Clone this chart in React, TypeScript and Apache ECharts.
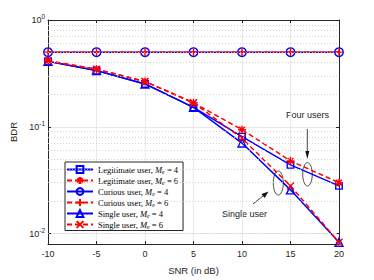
import React, { useEffect, useRef } from 'react';
import * as echarts from 'echarts';

const snr = [-10, -5, 0, 5, 10, 15, 20];
const legit4 = [0.41, 0.336, 0.252, 0.152, 0.081, 0.044, 0.028];
const legit6 = [0.415, 0.346, 0.266, 0.168, 0.094, 0.048, 0.030];
const curious4 = [0.5, 0.5, 0.5, 0.5, 0.5, 0.5, 0.5];
const curious6 = [0.5, 0.5, 0.5, 0.5, 0.5, 0.5, 0.5];
const single4 = [0.41, 0.336, 0.252, 0.152, 0.0705, 0.0257, 0.0083];
const single6 = [0.415, 0.346, 0.266, 0.168, 0.078, 0.028, 0.0083];

const seriesNames = [
  'Legitimate user, M_e = 4',
  'Legitimate user, M_e = 6',
  'Curious user, M_e = 4',
  'Curious user, M_e = 6',
  'Single user, M_e = 4',
  'Single user, M_e = 6',
];
const yMinorGrid = [0.009, 0.02, 0.03, 0.04, 0.05, 0.06, 0.07, 0.08, 0.09, 0.2, 0.3, 0.4, 0.5, 0.6, 0.7, 0.8, 0.9];

const BLUE = '#0000ff';
const RED = '#ff0000';
const AX = '#262626';
const SANS = '"Liberation Sans", Arial, sans-serif';
const SERIF = '"Liberation Serif", "Times New Roman", serif';

const ASTERISK = 'path://M0,-5L0,5M-5,0L5,0M-3.6,-3.6L3.6,3.6M-3.6,3.6L3.6,-3.6';
const PLUS = 'path://M0,-5L0,5M-5,0L5,0';
const CROSS = 'path://M-4,-4L4,4M-4,4L4,-4';

function mk(name: string, data: number[], color: string, dashed: boolean, symbol: string, size: number, hollow: boolean, z: number) {
  return {
    type: 'line',
    name,
    data: snr.map((x, i) => [x, data[i]]),
    xAxisIndex: 0,
    yAxisIndex: 0,
    symbol,
    symbolSize: size,
    showAllSymbol: true,
    color,
    z,
    lineStyle: { color, width: 1.5, type: dashed ? [5, 3] : 'solid' },
    itemStyle: { color: hollow ? 'rgba(0,0,0,0)' : color, borderColor: color, borderWidth: 1.4 },
    emphasis: { disabled: true },
  };
}

export default function App() {
  const ref = useRef<HTMLDivElement>(null);
  useEffect(() => {
    document.body.style.margin = '0';
    const chart = echarts.init(ref.current!, null, { renderer: 'svg' });
    const yFmt = (v: number) => {
      const e = Math.log10(v);
      const r = Math.round(e);
      if (Math.abs(e - r) > 1e-6) return '';
      return `{b|10}{s|${r}}`;
    };
    const option: any = {
      animation: false,
      grid: { left: 48, right: 35, top: 20, bottom: 31, show: false },
      xAxis: [
        {
          type: 'value', min: -10, max: 20, interval: 5, position: 'bottom',
          name: 'SNR (in dB)', nameLocation: 'middle', nameGap: 21,
          nameTextStyle: { fontFamily: SANS, fontSize: 9.5, color: AX },
          axisLine: { show: true, onZero: false, lineStyle: { color: AX, width: 1 } },
          axisTick: { show: true, inside: true, length: 3, lineStyle: { color: AX } },
          axisLabel: { fontFamily: SANS, fontSize: 9, color: AX, margin: 5 },
          splitLine: { show: true, lineStyle: { color: '#e3e3e3', width: 0.8 } },
        },
        {
          type: 'value', min: -10, max: 20, interval: 5, position: 'top',
          axisLine: { show: true, onZero: false, lineStyle: { color: AX, width: 1 } },
          axisTick: { show: true, inside: true, length: 3, lineStyle: { color: AX } },
          axisLabel: { show: false },
          splitLine: { show: false },
        },
      ],
      yAxis: [
        {
          type: 'log', logBase: 10, min: 0.008, max: 1, position: 'left',
          name: 'BDR', nameLocation: 'middle', nameGap: 29,
          nameTextStyle: { fontFamily: SANS, fontSize: 9.5, color: AX },
          axisLine: { show: true, onZero: false, lineStyle: { color: AX, width: 1 } },
          axisTick: { show: true, inside: true, length: 3, lineStyle: { color: AX } },
          axisLabel: {
            formatter: yFmt, margin: 3, color: AX,
            rich: {
              b: { fontFamily: SANS, fontSize: 9, color: AX },
              s: { fontFamily: SANS, fontSize: 6.5, color: AX, padding: [0, 0, 7, 0] },
            },
          },
          splitLine: { show: true, lineStyle: { color: '#e3e3e3', width: 0.8 } },
          minorTick: { show: false },
        },
        {
          type: 'log', logBase: 10, min: 0.008, max: 1, position: 'right',
          axisLine: { show: true, onZero: false, lineStyle: { color: AX, width: 1 } },
          axisTick: { show: true, inside: true, length: 3, lineStyle: { color: AX } },
          axisLabel: { show: false },
          splitLine: { show: false },
        },
      ],
      legend: {
        data: seriesNames,
        orient: 'vertical',
        left: 65,
        top: 162,
        padding: [3, 5, 1, 1],
        itemGap: 1.5,
        itemWidth: 26,
        itemHeight: 8.5,
        backgroundColor: '#ffffff',
        borderColor: AX,
        borderWidth: 1,
        borderRadius: 0,
        selectedMode: false,
        formatter: (name: string) => name.replace('M_e', '{i|M}{s|e}'),
        textStyle: {
          fontFamily: SERIF, fontSize: 8.5, color: '#000',
          rich: {
            i: { fontFamily: SERIF, fontStyle: 'italic', fontSize: 8.5, color: '#000' },
            s: { fontFamily: SERIF, fontStyle: 'italic', fontSize: 6, color: '#000', padding: [4, 0, 0, 0] },
          },
        },
      },
      series: [
        {
          type: 'line', name: 'minor-grid', data: [], silent: true, z: 1,
          markLine: {
            silent: true, symbol: ['none', 'none'], label: { show: false },
            lineStyle: { color: '#c9c9c9', type: [1, 2], width: 0.8 },
            emphasis: { disabled: true },
            data: yMinorGrid.map((v) => ({ yAxis: v })),
          },
        },
        mk(seriesNames[0], legit4, BLUE, false, 'rect', 6.5, true, 3),
        mk(seriesNames[1], legit6, RED, true, ASTERISK, 8, false, 4),
        mk(seriesNames[2], curious4, BLUE, false, 'circle', 8.5, true, 3),
        mk(seriesNames[3], curious6, RED, true, PLUS, 8, false, 4),
        mk(seriesNames[4], single4, BLUE, false, 'triangle', 8, true, 3),
        mk(seriesNames[5], single6, RED, true, CROSS, 7, false, 4),
      ],
      graphic: [
        { type: 'text', left: 286, top: 110, style: { text: 'Four users', font: `9px ${SANS}`, fill: '#222' } },
        { type: 'line', shape: { x1: 307.3, y1: 129, x2: 307.3, y2: 152 }, style: { stroke: '#111', lineWidth: 0.8 } },
        { type: 'polygon', shape: { points: [[307.3, 159], [305.3, 151], [309.3, 151]] }, style: { fill: '#111' } },
        { type: 'ellipse', shape: { cx: 307.5, cy: 174.3, rx: 4.8, ry: 11.7 }, style: { fill: 'none', stroke: '#222', lineWidth: 0.8 } },
        { type: 'text', left: 222, top: 209, style: { text: 'Single user', font: `9px ${SANS}`, fill: '#222' } },
        { type: 'line', shape: { x1: 253, y1: 204, x2: 263.1, y2: 195.9 }, style: { stroke: '#111', lineWidth: 0.8 } },
        { type: 'polygon', shape: { points: [[268.5, 191.5], [264.6, 197.9], [261.5, 193.9]] }, style: { fill: '#111' } },
        { type: 'ellipse', shape: { cx: 278.3, cy: 183, rx: 5, ry: 12 }, style: { fill: 'none', stroke: '#222', lineWidth: 0.8 } },
      ],
    };
    chart.setOption(option);
    return () => chart.dispose();
  }, []);
  return <div ref={ref} style={{ width: 374, height: 280 }} />;
}
